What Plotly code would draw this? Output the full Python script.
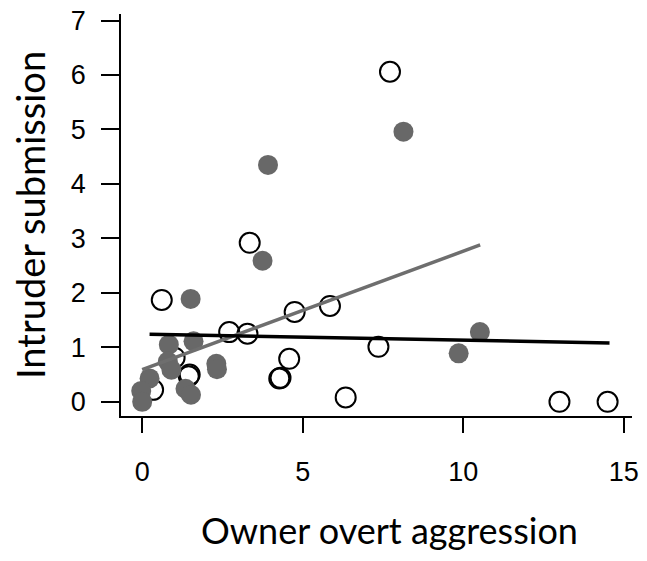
import plotly.graph_objects as go

# Open circles (one group)
open_x = [7.72, 3.35, 0.61, 5.85, 4.75, 2.71, 3.28, 7.36, 4.58, 4.27, 4.31, 1.48, 1.45, 6.34, 13.0, 14.5, 0.34, 1.01]
open_y = [6.06, 2.92, 1.87, 1.76, 1.65, 1.28, 1.25, 1.01, 0.79, 0.43, 0.44, 0.50, 0.47, 0.08, 0.0, 0.0, 0.22, 0.81]

# Filled grey circles (other group)
grey_x = [8.14, 3.92, 3.75, 1.51, 10.52, 9.86, 1.60, 0.83, 2.31, 2.33, 0.80, 0.91, 0.23, -0.03, 0.0, 1.35, 1.52]
grey_y = [4.96, 4.35, 2.59, 1.89, 1.28, 0.89, 1.11, 1.05, 0.70, 0.60, 0.74, 0.59, 0.43, 0.20, 0.0, 0.24, 0.13]

# Fitted lines (endpoints)
black_fit_x = [0.23, 14.56]
black_fit_y = [1.24, 1.08]
grey_fit_x = [0.0, 10.53]
grey_fit_y = [0.59, 2.88]

x_ticks = [0, 5, 10, 15]
y_ticks = [0, 1, 2, 3, 4, 5, 6, 7]

W, H = 647, 561
L, R, T, B = 121, 15, 14, 145

fig = go.Figure()
fig.add_trace(go.Scatter(
    x=open_x, y=open_y, mode="markers",
    marker=dict(size=20, color="rgba(0,0,0,0)", line=dict(color="black", width=2)),
    showlegend=False, hoverinfo="skip"))
fig.add_trace(go.Scatter(
    x=grey_x, y=grey_y, mode="markers",
    marker=dict(size=20, color="#686868", line=dict(width=0)),
    showlegend=False, hoverinfo="skip"))
fig.add_trace(go.Scatter(
    x=grey_fit_x, y=grey_fit_y, mode="lines",
    line=dict(color="#6e6e6e", width=3.5),
    showlegend=False, hoverinfo="skip"))
fig.add_trace(go.Scatter(
    x=black_fit_x, y=black_fit_y, mode="lines",
    line=dict(color="black", width=3.5),
    showlegend=False, hoverinfo="skip"))

tickfont = dict(family="Liberation Sans, Arial, sans-serif", size=27, color="black")
fig.update_xaxes(
    range=[-0.66, 15.26], tickvals=x_ticks, ticktext=[str(v) for v in x_ticks],
    showline=True, linecolor="black", linewidth=1.5, mirror=False,
    ticks="outside", ticklen=15, tickwidth=1.5, tickcolor="black",
    showgrid=False, zeroline=False, tickfont=tickfont, ticklabelstandoff=16)
fig.update_yaxes(
    range=[-0.26, 7.12], tickvals=y_ticks, ticktext=[str(v) for v in y_ticks],
    showline=True, linecolor="black", linewidth=1.5, mirror=False,
    ticks="outside", ticklen=18, tickwidth=1.5, tickcolor="black",
    showgrid=False, zeroline=False, tickfont=tickfont, ticklabelstandoff=10)

pw = W - L - R
ph = H - T - B
fig.add_annotation(text="Owner overt aggression", xref="paper", yref="paper",
                   x=(389 - L) / pw, y=1 - (530 - T) / ph, showarrow=False,
                   xanchor="center", yanchor="middle",
                   font=dict(family="Lato, Open Sans, sans-serif", size=36, color="black"))
fig.add_annotation(text="Intruder submission", xref="paper", yref="paper",
                   x=(30 - L) / pw, y=1 - (215 - T) / ph, showarrow=False,
                   textangle=-90, xanchor="center", yanchor="middle",
                   font=dict(family="Lato, Open Sans, sans-serif", size=38, color="black"))

fig.update_layout(
    width=W, height=H, margin=dict(l=L, r=R, t=T, b=B, autoexpand=False),
    paper_bgcolor="white", plot_bgcolor="white")

fig.write_html("out.html", config={"displayModeBar": False})

# remove default page margin so the figure sits at the window origin
with open("out.html", "r", encoding="utf-8") as f:
    html = f.read()
html = html.replace("<head>", "<head><style>html,body{margin:0;padding:0;overflow:hidden;}</style>", 1)
with open("out.html", "w", encoding="utf-8") as f:
    f.write(html)
